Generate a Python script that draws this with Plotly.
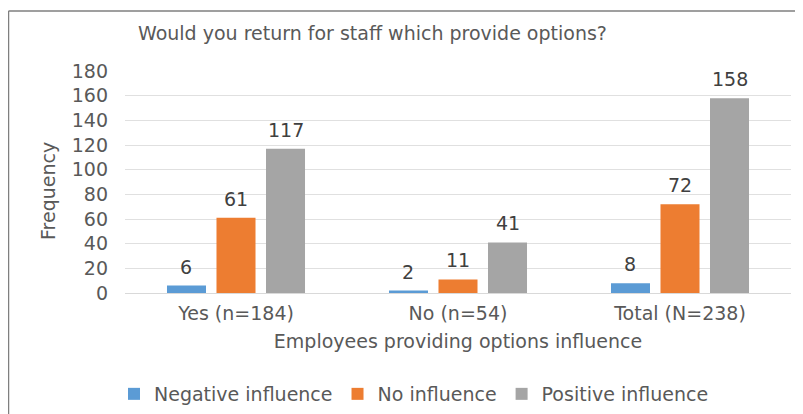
import plotly.graph_objects as go

categories = ["Yes (n=184)", "No (n=54)", "Total (N=238)"]
negative = [6, 2, 8]
no_infl = [61, 11, 72]
positive = [117, 41, 158]
series_names = ["Negative influence", "No influence", "Positive influence"]
colors = ["#5B9BD5", "#ED7D31", "#A5A5A5"]

# page body has an 8px margin: figure is placed at (8, 8) in the window
OFF = 8
W, H = 803 - OFF, 414 - OFF
PL, PR, PT, PB = 125, 791, 71, 293          # plot area in window pixels
L, R, T, B = PL - OFF, W - (PR - OFF), PT - OFF, H - (PB - OFF)
pw, ph = W - L - R, H - T - B
FONT = "DejaVu Sans, Liberation Sans, Arial"
FS = 19
TXT = "#595959"
BARGAP, BARGROUPGAP = 0.331, 0.212

fig = go.Figure()
for name, vals, c in zip(series_names, [negative, no_infl, positive], colors):
    fig.add_trace(go.Bar(
        x=categories, y=vals, name=name, marker=dict(color=c, line=dict(width=0)),
    ))

# data labels as annotations above each bar
cat_px = pw / len(categories)
slot_px = (1 - BARGAP) * cat_px / len(series_names)
for i, vals in enumerate([negative, no_infl, positive]):
    off = (i - (len(series_names) - 1) / 2) * slot_px
    for cat, v in zip(categories, vals):
        fig.add_annotation(x=cat, y=v, text=str(v), showarrow=False,
                           xshift=off, yshift=19, yanchor="middle",
                           font=dict(family=FONT, size=FS, color="#404040"))

def px_x(p):  # window px -> paper
    return (p - OFF - L) / pw

def px_y(p):
    return (H - B - (p - OFF)) / ph

# y-axis title
fig.add_annotation(xref="paper", yref="paper", x=px_x(48), y=px_y(191),
                   text="Frequency", textangle=-90, showarrow=False,
                   xanchor="center", yanchor="middle",
                   font=dict(family=FONT, size=FS, color=TXT))

fig.update_layout(
    width=W, height=H,
    margin=dict(l=L, r=R, t=T, b=B, autoexpand=False),
    paper_bgcolor="white", plot_bgcolor="white",
    font=dict(family=FONT, color=TXT, size=FS),
    barmode="group", bargap=BARGAP, bargroupgap=BARGROUPGAP,
    title=dict(text="Would you return for staff which provide options?",
               x=(138 - OFF) / W, xanchor="left", y=1 - (33 - OFF) / H, yanchor="middle",
               font=dict(family=FONT, size=FS, color=TXT)),
    xaxis=dict(showgrid=False, showline=True, linecolor="#d9d9d9", linewidth=1,
               ticks="", automargin=False, ticklabelstandoff=3,
               tickfont=dict(family=FONT, size=FS, color=TXT),
               title=dict(text="Employees providing options influence", standoff=11,
                          font=dict(family=FONT, size=FS, color=TXT))),
    yaxis=dict(range=[0, 180], dtick=20, showgrid=True, gridcolor="#e0e0e0", gridwidth=1,
               zeroline=False, showline=False, ticks="", ticklabelstandoff=16,
               automargin=False,
               tickfont=dict(family=FONT, size=FS, color=TXT)),
    legend=dict(orientation="h", x=px_x(414), xanchor="center", y=px_y(394), yanchor="middle",
                font=dict(family=FONT, size=FS, color=TXT), itemwidth=30,
                traceorder="normal"),
    showlegend=True,
)

# chart frame: top and left edges only
fig.add_shape(type="line", xref="paper", yref="paper",
              x0=px_x(8.5), x1=px_x(810), y0=px_y(11), y1=px_y(11),
              line=dict(color="#7f7f7f", width=1.5), layer="below")
fig.add_shape(type="line", xref="paper", yref="paper",
              x0=px_x(8.5), x1=px_x(8.5), y0=px_y(11), y1=px_y(430),
              line=dict(color="#7f7f7f", width=1.5), layer="below")

fig.write_html("out.html")
